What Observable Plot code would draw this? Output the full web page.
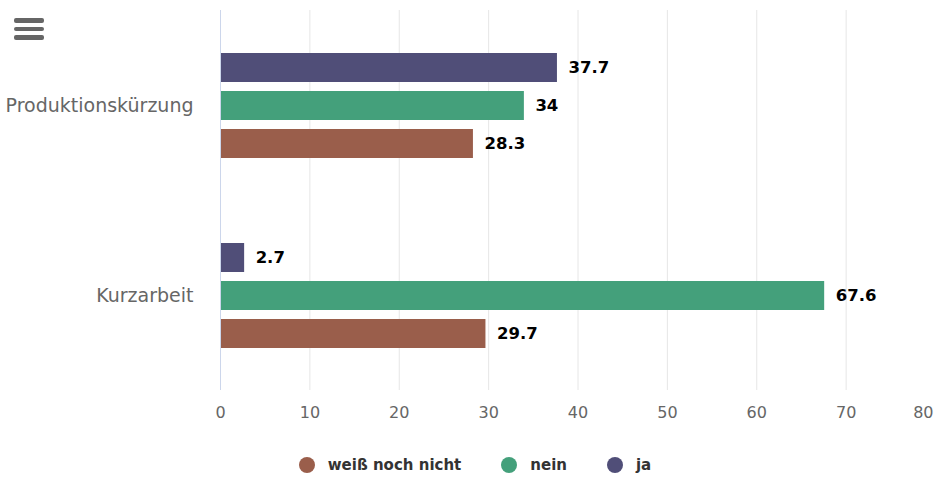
<!DOCTYPE html>
<html>
<head>
<meta charset="utf-8">
<script src="https://cdn.jsdelivr.net/npm/d3@7"></script>
<script src="https://cdn.jsdelivr.net/npm/@observablehq/plot@0.6"></script>
<style>
  html, body { margin: 0; padding: 0; background: #fff; overflow: hidden; }
  #wrap { position: relative; width: 934px; height: 480px; font-family: "DejaVu Sans", sans-serif; }
  #menu { position: absolute; left: 14px; top: 18px; width: 30px; }
  #menu div { height: 4.5px; background: #666; border-radius: 2px; margin-bottom: 4px; }
  #legend { position: absolute; top: 456px; left: 0; width: 934px; display: flex; justify-content: center; padding-left: 16px; box-sizing: border-box; }
  .item { display: flex; align-items: center; margin: 0 20px; font-weight: bold; font-size: 15px; color: #333; }
  .dot { width: 16px; height: 16px; border-radius: 50%; margin-right: 13px; }
</style>
</head>
<body>
<div id="wrap">
  <div id="chart"></div>
  <div id="menu"><div></div><div></div><div></div></div>
  <div id="legend"></div>
</div>
<script>
const categories = ["Produktionskürzung", "Kurzarbeit"];
const seriesNames = ["ja", "nein", "weiß noch nicht"];
const legendOrder = ["weiß noch nicht", "nein", "ja"];
const colors = ["#504e78", "#44a07b", "#9a5e4b"];
const jaValues = [37.7, 2.7];
const neinValues = [34, 67.6];
const weissValues = [28.3, 29.7];
const xTicks = [0, 10, 20, 30, 40, 50, 60, 70, 80];

const valuesBySeries = [jaValues, neinValues, weissValues];
const data = [];
categories.forEach((c, i) => {
  seriesNames.forEach((s, j) => {
    data.push({category: c, series: s, value: valuesBySeries[j][i]});
  });
});

const chart = Plot.plot({
  width: 934,
  height: 440,
  marginTop: 10,
  marginBottom: 50,
  marginLeft: 220,
  marginRight: 0,
  style: {fontFamily: "DejaVu Sans, sans-serif", background: "#fff", overflow: "visible"},
  x: {domain: [0, 80], range: [220, 935], ticks: xTicks},
  y: {domain: seriesNames, paddingInner: 0.237, paddingOuter: 1.118, axis: null},
  fy: {domain: categories, padding: 0, label: null},
  color: {domain: seriesNames, range: colors},
  marks: [
    Plot.ruleX(xTicks.slice(1), {stroke: "#e6e6e6", strokeWidth: 1}),
    Plot.barX(data, {fy: "category", y: "series", x: "value", fill: "series"}),
    Plot.ruleX([0], {stroke: "#ccd6eb", strokeWidth: 1}),
    Plot.text(data, {fy: "category", y: "series", x: "value", text: d => String(d.value), textAnchor: "start", dx: 11, fontWeight: "bold", fontSize: 16.5, fill: "#000"}),
    Plot.axisX({ticks: xTicks.slice(0, -1), tickSize: 0, tickPadding: 16, fontSize: 16, color: "#666", label: null, anchor: "bottom", facetAnchor: "bottom"}),
    Plot.axisX({ticks: xTicks.slice(-1), tickSize: 0, tickPadding: 16, fontSize: 16, color: "#666", label: null, anchor: "bottom", facetAnchor: "bottom", textAnchor: "end", dx: -2}),
    Plot.axisFy({tickSize: 0, tickPadding: 27, fontSize: 19, color: "#666", label: null, anchor: "left"})
  ]
});
document.getElementById("chart").appendChild(chart);

const legend = document.getElementById("legend");
legendOrder.forEach(s => {
  const item = document.createElement("div");
  item.className = "item";
  const dot = document.createElement("span");
  dot.className = "dot";
  dot.style.background = colors[seriesNames.indexOf(s)];
  const label = document.createElement("span");
  label.textContent = s;
  item.appendChild(dot);
  item.appendChild(label);
  legend.appendChild(item);
});
</script>
</body>
</html>
